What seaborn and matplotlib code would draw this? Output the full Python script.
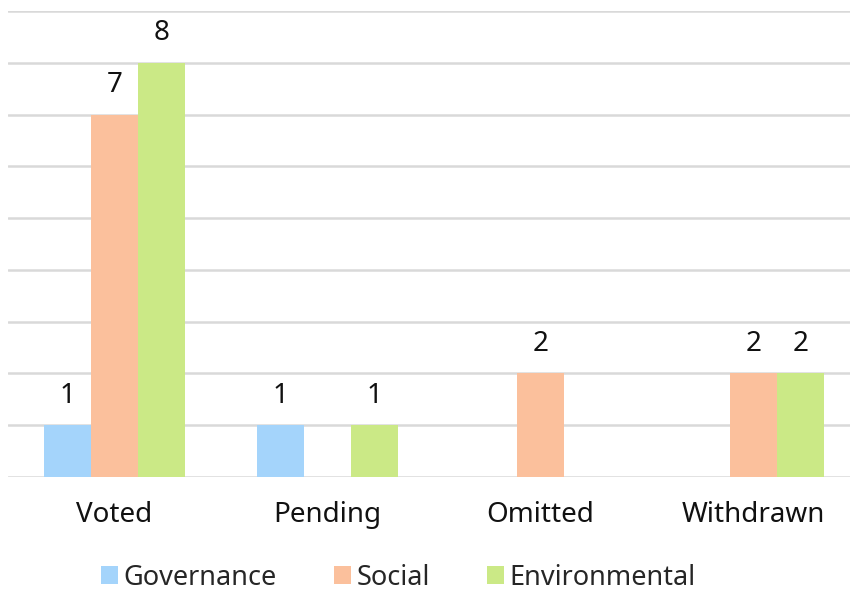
import matplotlib
matplotlib.use("Agg")
import matplotlib.pyplot as plt
import seaborn as sns
import pandas as pd

# Resolution counts by status and ESG category
statuses = ["Voted", "Pending", "Omitted", "Withdrawn"]
categories = ["Governance", "Social", "Environmental"]
governance = [1, 1, 0, 0]
social = [7, 0, 2, 2]
environmental = [8, 1, 0, 2]

palette = {"Governance": "#a4d4fb", "Social": "#fbc09c", "Environmental": "#cbe986"}

rows = []
for cat, vals in zip(categories, [governance, social, environmental]):
    for st, v in zip(statuses, vals):
        rows.append({"Status": st, "Category": cat, "Count": v})
df = pd.DataFrame(rows)

sns.set_theme(style="white")
plt.rcParams["font.family"] = ["Noto Sans", "DejaVu Sans"]

fig = plt.figure(figsize=(8.5, 5.93), dpi=100)
ax = fig.add_axes([8 / 850, 116 / 593, 852 / 850, 466 / 593])

sns.barplot(data=df, x="Status", y="Count", hue="Category", hue_order=categories,
            order=statuses, palette=palette, width=0.66, saturation=1,
            linewidth=0, ax=ax, legend=True)

ax.set_xlim(-0.5, 3.5)
ax.set_ylim(0, 9)
ax.set_yticks(range(0, 10))
ax.set_yticklabels([])
ax.yaxis.grid(True, color="#d9d9d9", linewidth=1.8)
ax.set_axisbelow(True)
ax.tick_params(axis="both", length=0)
ax.tick_params(axis="x", labelsize=20, pad=17)
ax.set_xlabel("")
ax.set_ylabel("")
for s in ax.spines.values():
    s.set_visible(False)

for cont in ax.containers:
    labels = [f"{b.get_height():.0f}" if b.get_height() > 0 else "" for b in cont]
    ax.bar_label(cont, labels=labels, padding=11, fontsize=20, color="#111111")

handles, labels = ax.get_legend_handles_labels()
ax.legend_.remove()
fig.legend(handles, labels, loc="lower center", bbox_to_anchor=(398 / 850, 0),
           ncol=3, frameon=False, fontsize=19.5, handlelength=0.64, handleheight=0.64,
           handletextpad=0.2, columnspacing=2.1, borderpad=0.05, borderaxespad=0)

for t in ax.get_xticklabels():
    t.set_color("#111111")

fig.savefig("out.png", dpi=100)
